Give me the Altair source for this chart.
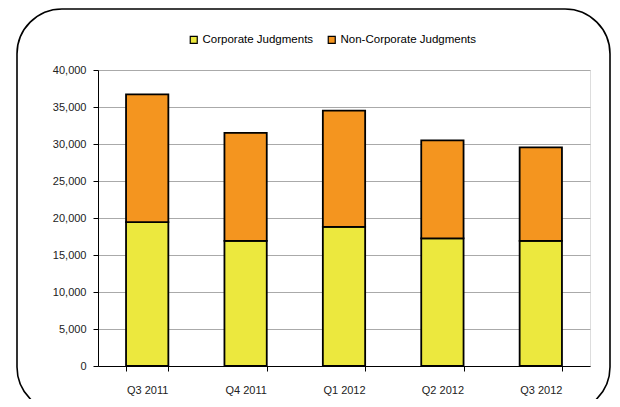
import altair as alt
import pandas as pd

quarters = ["Q3 2011", "Q4 2011", "Q1 2012", "Q2 2012", "Q3 2012"]
corporate = [19450, 16900, 18800, 17250, 16900]
non_corporate = [17250, 14600, 15700, 13250, 12650]
series = ["Corporate Judgments", "Non-Corporate Judgments"]
colors = ["#ECE83E", "#F4951F"]
y_ticks = [0, 5000, 10000, 15000, 20000, 25000, 30000, 35000, 40000]

rows = []
for q, c, n in zip(quarters, corporate, non_corporate):
    rows.append({"quarter": q, "series": series[0], "value": c, "ord": 0})
    rows.append({"quarter": q, "series": series[1], "value": n, "ord": 1})
df = pd.DataFrame(rows)

FONT = "Liberation Sans"

bars = alt.Chart(df).mark_bar(stroke="black", strokeWidth=1.8).encode(
    x=alt.X("quarter:N", sort=quarters, title=None,
            scale=alt.Scale(paddingInner=0.57, paddingOuter=0.285),
            axis=alt.Axis(labelAngle=0, tickBand="extent", grid=False,
                          domainColor="black", tickColor="black", tickSize=5,
                          labelPadding=13, labelFontSize=11, labelColor="#222",
                          labelFont=FONT)),
    y=alt.Y("value:Q", stack="zero", title=None,
            scale=alt.Scale(domain=[0, 40000], nice=False),
            axis=alt.Axis(values=y_ticks, format=",.0f", grid=True, gridColor="#aaaaaa",
                          domainColor="black", tickColor="black", tickSize=5,
                          labelPadding=7, labelFontSize=11, labelColor="#222",
                          labelFont=FONT)),
    color=alt.Color("series:N", sort=series,
                    scale=alt.Scale(domain=series, range=colors),
                    legend=alt.Legend(title=None, orient="none", direction="horizontal",
                                      legendX=90, legendY=-36, symbolType="square",
                                      symbolSize=49, symbolStrokeColor="black",
                                      symbolStrokeWidth=1.2, labelFontSize=11.5,
                                      labelFont=FONT, labelColor="black",
                                      columnPadding=11, labelOffset=3)),
    order=alt.Order("ord:Q", sort="ascending"),
)

border = alt.Chart(alt.Data(values=[{}])).mark_rect(
    fill=None, stroke="black", strokeWidth=1.6, cornerRadius=45, clip=False
).encode(
    x=alt.value(-81), x2=alt.value(512), y=alt.value(-61), y2=alt.value(342)
)

chart = alt.layer(bars, border).properties(
    width=492, height=296,
    autosize=alt.AutoSizeParams(type="none"),
    padding={"left": 90, "top": 62, "right": 22, "bottom": 33},
).configure_view(stroke=None).configure(background="white")

chart.save("out.html", embed_options={"renderer": "svg", "actions": False})
